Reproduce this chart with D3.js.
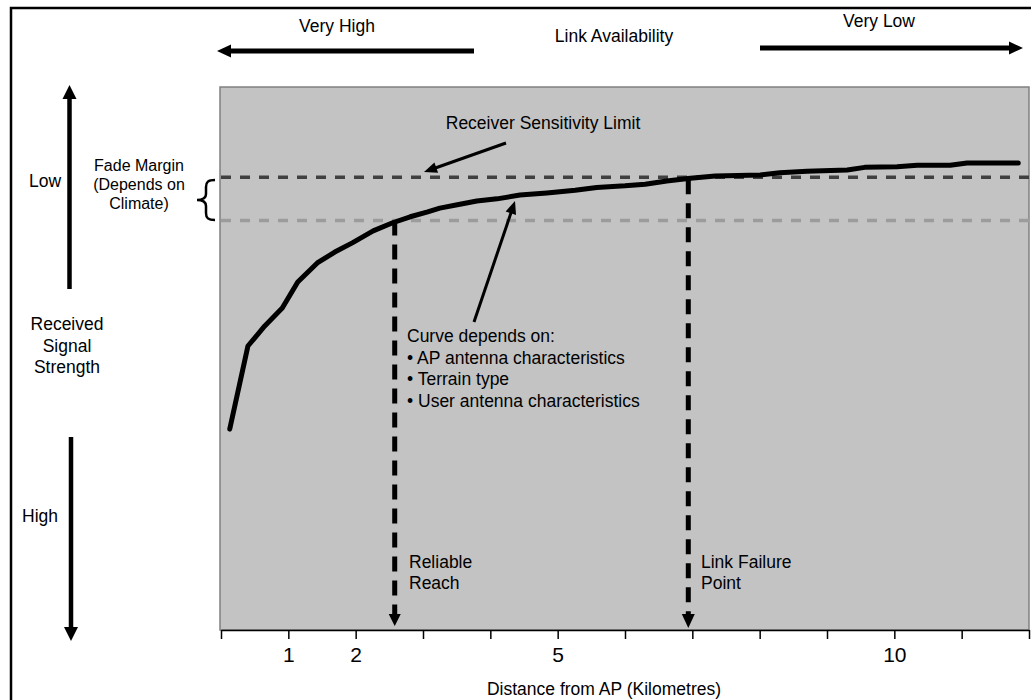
<!DOCTYPE html>
<html>
<head>
<meta charset="utf-8">
<script src="https://cdn.jsdelivr.net/npm/d3@7"></script>
<style>
  html, body { margin: 0; padding: 0; background: #fff; }
  svg { display: block; font-family: "Liberation Sans", Arial, sans-serif; }
</style>
</head>
<body>
<svg id="chart" width="1031" height="700"></svg>
<script>
// ---- Data ----
const distanceKm = [0.13, 0.40, 0.65, 0.91, 1.14, 1.43, 1.69, 1.95, 2.26, 2.55, 2.81, 3.07, 3.25, 3.51, 3.80, 4.10, 4.44, 4.84, 5.26, 5.58, 6.00, 6.30, 6.62, 6.97, 7.34, 8.01, 8.30, 8.70, 9.30, 9.56, 10.04, 10.34, 10.83, 11.08, 11.84];
const signalLevel = [37.0, 52.3, 56.0, 59.3, 64.1, 67.6, 69.6, 71.3, 73.5, 75.0, 76.1, 77.0, 77.7, 78.3, 79.0, 79.4, 80.1, 80.5, 81.0, 81.5, 81.8, 82.1, 82.7, 83.2, 83.6, 83.8, 84.2, 84.5, 84.7, 85.2, 85.3, 85.6, 85.6, 86.0, 86.0];
const xTickValues = [0,1,2,3,4,5,6,7,8,9,10,11,12];
const xTickLabels = ["", "1", "2", "", "", "5", "", "", "", "", "10", "", ""];
const sensitivityLimit = 83.4;   // Receiver Sensitivity Limit
const fadeMarginFloor = 75.4;    // lower edge of fade margin
const reliableReach = 2.58;      // km
const linkFailurePoint = 6.94;   // km
const curveNotes = ["Curve depends on:", "\u2022 AP antenna characteristics", "\u2022 Terrain type", "\u2022 User antenna characteristics"];
const fadeMarginText = ["Fade Margin", "(Depends on", "Climate)"];
const signalText = ["Received", "Signal", "Strength"];

// ---- Layout ----
const svg = d3.select("#chart");
const plot = {left: 220, right: 1029, top: 87, bottom: 630};
const x = d3.scaleLinear().domain([0, 12]).range([221, 1029]);
const y = d3.scaleLinear().domain([0, 100]).range([plot.bottom, plot.top]);
const FS = 17.5;

// outer frame
svg.append("rect").attr("x", 11).attr("y", 8).attr("width", 1030).attr("height", 700)
  .attr("fill", "none").attr("stroke", "#000").attr("stroke-width", 2.5);

// plot area
svg.append("rect").attr("x", plot.left).attr("y", plot.top)
  .attr("width", plot.right - plot.left).attr("height", plot.bottom - plot.top)
  .attr("fill", "#c3c3c3").attr("stroke", "#808080").attr("stroke-width", 1.5);

// helper: arrow with filled head
function arrow(g, x1, y1, x2, y2, opts) {
  const o = Object.assign({w: 4.5, head: 13, headW: 13, color: "#000", dash: null}, opts || {});
  const dx = x2 - x1, dy = y2 - y1, L = Math.hypot(dx, dy);
  const ux = dx / L, uy = dy / L;
  const bx = x2 - ux * o.head, by = y2 - uy * o.head;
  const ln = g.append("line").attr("x1", x1).attr("y1", y1).attr("x2", bx + ux).attr("y2", by + uy)
    .attr("stroke", o.color).attr("stroke-width", o.w);
  if (o.dash) ln.attr("stroke-dasharray", o.dash);
  const px = -uy, py = ux, hw = o.headW / 2;
  g.append("polygon")
    .attr("points", [[x2, y2], [bx + px * hw, by + py * hw], [bx - px * hw, by - py * hw]].map(p => p.join(",")).join(" "))
    .attr("fill", o.color);
}

// threshold dashed lines
svg.append("line").attr("x1", plot.left + 1).attr("x2", plot.right)
  .attr("y1", y(fadeMarginFloor)).attr("y2", y(fadeMarginFloor))
  .attr("stroke", "#9c9c9c").attr("stroke-width", 3.5).attr("stroke-dasharray", "10,9");
svg.append("line").attr("x1", plot.left + 1).attr("x2", plot.right)
  .attr("y1", y(sensitivityLimit)).attr("y2", y(sensitivityLimit))
  .attr("stroke", "#404040").attr("stroke-width", 3.5).attr("stroke-dasharray", "10,9");

// vertical dashed arrows
arrow(svg, x(reliableReach), y(fadeMarginFloor), x(reliableReach), plot.bottom - 4,
  {w: 5, head: 12, headW: 12, dash: "15,9"});
arrow(svg, x(linkFailurePoint), y(sensitivityLimit) + 2, x(linkFailurePoint), plot.bottom - 2,
  {w: 5, head: 14, headW: 13, dash: "15,9"});

// curve
const pts = distanceKm.map((d, i) => [d, signalLevel[i]]);
svg.append("path").datum(pts)
  .attr("d", d3.line().x(d => x(d[0])).y(d => y(d[1])))
  .attr("fill", "none").attr("stroke", "#000").attr("stroke-width", 5)
  .attr("stroke-linejoin", "round").attr("stroke-linecap", "round");

// x axis
const axis = d3.axisBottom(x).tickValues(xTickValues)
  .tickFormat((d, i) => xTickLabels[i]).tickSize(9).tickSizeOuter(0).tickPadding(8);
const ax = svg.append("g").attr("transform", `translate(0,${plot.bottom})`).call(axis);
ax.select(".domain").attr("stroke", "#000").attr("stroke-width", 1.5);
ax.selectAll(".tick line").attr("stroke", "#000").attr("stroke-width", 1.5);
ax.selectAll(".tick text").attr("font-size", 21).attr("fill", "#000")
  .attr("font-family", "'Liberation Sans', Arial, sans-serif");

svg.append("text").attr("x", 604).attr("y", 695).attr("text-anchor", "middle")
  .attr("font-size", FS).text("Distance from AP (Kilometres)");

// top annotations
svg.append("text").attr("x", 337).attr("y", 32).attr("text-anchor", "middle").attr("font-size", FS).text("Very High");
svg.append("text").attr("x", 614).attr("y", 42).attr("text-anchor", "middle").attr("font-size", FS).text("Link Availability");
svg.append("text").attr("x", 879).attr("y", 27).attr("text-anchor", "middle").attr("font-size", FS).text("Very Low");
arrow(svg, 474, 51, 217, 51, {w: 5, head: 14, headW: 13});
arrow(svg, 760, 48, 1023, 48, {w: 5, head: 14, headW: 13});

// left annotations
arrow(svg, 69.5, 289, 69.5, 85, {w: 4.5, head: 14, headW: 14});
arrow(svg, 71, 437, 71, 641, {w: 4.5, head: 14, headW: 14});
svg.append("text").attr("x", 45).attr("y", 187).attr("text-anchor", "middle").attr("font-size", FS).text("Low");
svg.append("text").attr("x", 40).attr("y", 522).attr("text-anchor", "middle").attr("font-size", FS).text("High");
svg.append("text").attr("text-anchor", "middle").attr("font-size", FS)
  .selectAll("tspan").data(signalText).join("tspan")
  .attr("x", 67).attr("y", (d, i) => 330 + i * 21.5).text(d => d);

svg.append("text").attr("text-anchor", "middle").attr("font-size", 16)
  .selectAll("tspan").data(fadeMarginText).join("tspan")
  .attr("x", 139).attr("y", (d, i) => 171 + i * 19).text(d => d);

// brace
svg.append("path")
  .attr("d", "M215,180 C208,180 206,182 206,187 L206,194 C206,198 203,200 197,200 C203,200 206,202 206,206 L206,213 C206,218 208,220 215,220")
  .attr("fill", "none").attr("stroke", "#000").attr("stroke-width", 2.5);

// receiver sensitivity label + arrow
svg.append("text").attr("x", 543).attr("y", 129).attr("text-anchor", "middle").attr("font-size", FS).text("Receiver Sensitivity Limit");
arrow(svg, 506, 143, 424, 172, {w: 3, head: 13, headW: 11});

// curve notes + arrow
svg.append("text").attr("font-size", FS)
  .selectAll("tspan").data(curveNotes).join("tspan")
  .attr("x", 407).attr("y", (d, i) => 342 + i * 21.7).text(d => d);
arrow(svg, 474, 322, 515, 201, {w: 3, head: 13, headW: 11});

// bottom labels
svg.append("text").attr("font-size", FS).selectAll("tspan").data(["Reliable", "Reach"]).join("tspan")
  .attr("x", 409).attr("y", (d, i) => 568 + i * 21).text(d => d);
svg.append("text").attr("font-size", FS).selectAll("tspan").data(["Link Failure", "Point"]).join("tspan")
  .attr("x", 701).attr("y", (d, i) => 568 + i * 21).text(d => d);
</script>
</body>
</html>
